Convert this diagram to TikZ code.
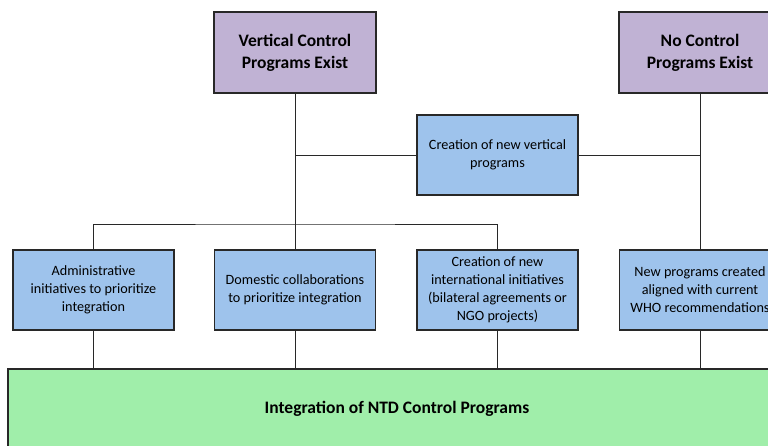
\documentclass[tikz,border=0pt]{standalone}
\usepackage{fontspec}
\setmainfont{Carlito}
\usepackage{tikz}
\usetikzlibrary{calc}
\usetikzlibrary{positioning}
\definecolor{lavender}{RGB}{192, 178, 212}
\definecolor{skyblue}{RGB}{158, 195, 236}
\definecolor{mintgreen}{RGB}{160, 238, 170}
\definecolor{edgegray}{RGB}{40, 40, 40}

\tikzset{
  exist/.style={draw=edgegray, line width=1.3pt, fill=lavender, minimum width=162pt,
                minimum height=81pt, align=center, font=\fontsize{17.5}{22}\selectfont\bfseries},
  option/.style={draw=edgegray, line width=1.3pt, fill=skyblue, minimum width=161pt,
                 minimum height=80pt, align=center, inner sep=0pt,
                 font=\fontsize{14.2}{18}\selectfont},
  outcome/.style={draw=edgegray, line width=1.3pt, fill=mintgreen, minimum width=778pt,
                  minimum height=80pt, align=center, font=\fontsize{17.5}{22}\selectfont\bfseries},
  link/.style={draw=edgegray, line width=0.9pt}
}

\begin{document}
\begin{tikzpicture}[x=1pt, y=-1pt]
            % Frame: crop to the reference size
            \useasboundingbox (0,0) rectangle (768,445);
            \clip (0,0) rectangle (768,445);
            % Starting situations
            \node[exist] (vert)  at (295.0, 52.5) {Vertical Control\\Programs Exist};
            \node[exist] (nocon) at (700.0, 52.5) {No Control\\Programs Exist};
            % New vertical programs
            \node[option] (newvert) at (497.5, 155.0) {Creation of new vertical\\programs};
            % Integration routes
            \node[option] (admin)   at ( 93.5, 290.0) {Administrative\\initiatives to prioritize\\integration};
            \node[option] (dom)     at (295.0, 290.0) {Domestic collaborations\\to prioritize integration};
            \node[option] (intl)    at (497.5, 290.0) {Creation of new\\international initiatives\\(bilateral agreements or\\NGO projects)};
            \node[option] (newprog) at (700.0, 290.0) {New programs created\\aligned with current\\WHO recommendations};
            % Outcome
            \node[outcome] (integ)  at (397.0, 409.0) {Integration of NTD Control Programs};
            % Connectors
            \coordinate (bar) at (295.0, 224.0);
            \draw[link] (vert.south) -- (dom.north);
            \draw[link] (nocon.south) -- (newprog.north);
            \draw[link] (newvert.west) -- (newvert.west -| vert.south);
            \draw[link] (newvert.east) -- (newvert.east -| nocon.south);
            \draw[link] (admin.north) |- (bar) -| (intl.north);
            \foreach \route in {admin, dom, intl, newprog}
              \draw[link] (\route.south) -- (\route.south |- integ.north);
\end{tikzpicture}
\end{document}
